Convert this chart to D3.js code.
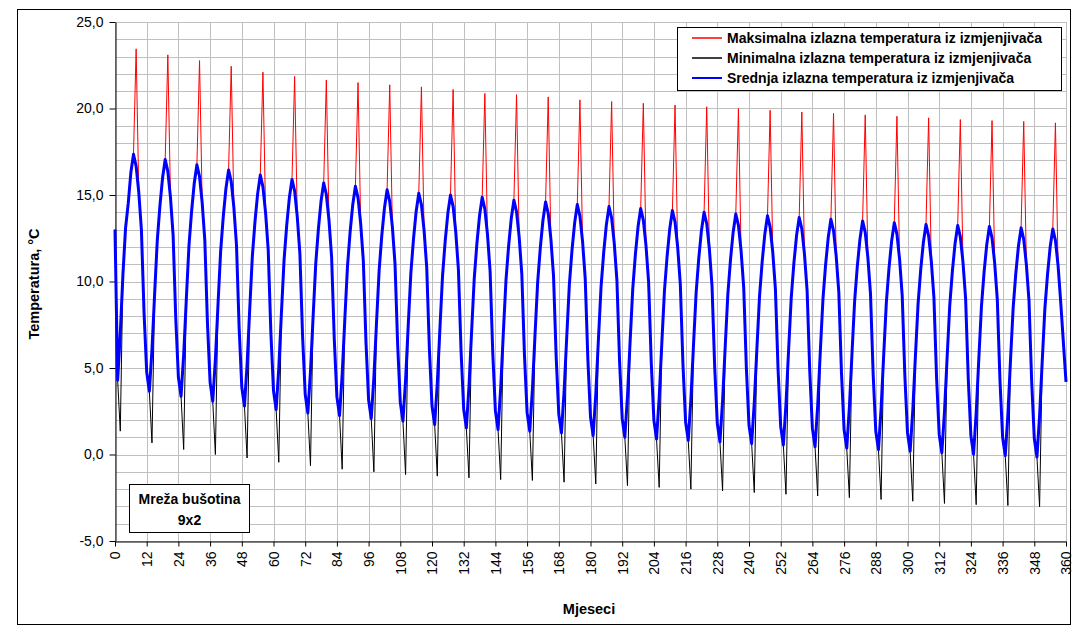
<!DOCTYPE html>
<html>
<head>
<meta charset="utf-8">
<script src="https://cdn.jsdelivr.net/npm/d3@7.9.0/dist/d3.min.js"></script>
<style>
  body { margin: 0; background: #fff; }
  svg { display: block; font-family: "Liberation Sans", Arial, sans-serif; }
</style>
</head>
<body>
<svg id="chart" width="1074" height="627"></svg>
<script>
// monthly values, month 0..360 (one row per year)
const meanTemp = [13.0,
  4.3, 7.0, 10.4, 13.1, 14.5, 16.3, 17.35, 16.66, 15.16, 12.97, 8.18, 4.76,
  3.66, 6.07, 9.28, 12.36, 14.37, 15.98, 17.05, 16.37, 14.86, 12.67, 7.88, 4.46,
  3.37, 5.78, 8.99, 12.07, 14.07, 15.68, 16.75, 16.07, 14.56, 12.38, 7.59, 4.17,
  3.08, 5.49, 8.7, 11.77, 13.78, 15.38, 16.45, 15.77, 14.27, 12.08, 7.3, 3.89,
  2.8, 5.2, 8.41, 11.48, 13.48, 15.08, 16.15, 15.47, 13.98, 11.81, 7.07, 3.68,
  2.6, 4.99, 8.19, 11.25, 13.24, 14.84, 15.9, 15.23, 13.74, 11.58, 6.86, 3.48,
  2.4, 4.79, 7.99, 11.05, 13.04, 14.64, 15.7, 15.03, 13.55, 11.4, 6.69, 3.33,
  2.25, 4.64, 7.82, 10.86, 12.85, 14.44, 15.5, 14.83, 13.35, 11.21, 6.51, 3.15,
  2.08, 4.46, 7.63, 10.67, 12.66, 14.24, 15.3, 14.63, 13.16, 11.02, 6.34, 3.0,
  1.93, 4.3, 7.46, 10.49, 12.47, 14.05, 15.1, 14.43, 12.96, 10.82, 6.14, 2.8,
  1.73, 4.12, 7.3, 10.36, 12.35, 13.94, 15.0, 14.33, 12.85, 10.69, 5.98, 2.62,
  1.54, 3.94, 7.14, 10.2, 12.2, 13.8, 14.87, 14.2, 12.72, 10.58, 5.88, 2.52,
  1.45, 3.84, 7.02, 10.06, 12.05, 13.64, 14.7, 14.03, 12.56, 10.43, 5.76, 2.42,
  1.35, 3.74, 6.92, 9.96, 11.95, 13.54, 14.6, 13.93, 12.46, 10.33, 5.66, 2.32,
  1.25, 3.63, 6.79, 9.83, 11.81, 13.39, 14.45, 13.78, 12.31, 10.18, 5.51, 2.17,
  1.1, 3.48, 6.66, 9.7, 11.68, 13.27, 14.33, 13.66, 12.2, 10.06, 5.4, 2.07,
  1.0, 3.38, 6.55, 9.59, 11.58, 13.16, 14.22, 13.55, 12.09, 9.96, 5.3, 1.97,
  0.9, 3.28, 6.44, 9.48, 11.46, 13.04, 14.1, 13.44, 11.98, 9.85, 5.2, 1.88,
  0.82, 3.19, 6.36, 9.39, 11.36, 12.95, 14.0, 13.34, 11.88, 9.75, 5.11, 1.79,
  0.73, 3.1, 6.26, 9.29, 11.27, 12.85, 13.9, 13.24, 11.78, 9.65, 5.01, 1.69,
  0.63, 3.0, 6.16, 9.19, 11.17, 12.75, 13.8, 13.14, 11.68, 9.56, 4.92, 1.61,
  0.55, 2.92, 6.07, 9.1, 11.07, 12.65, 13.7, 13.04, 11.58, 9.46, 4.82, 1.51,
  0.45, 2.82, 5.97, 9.0, 10.97, 12.55, 13.6, 12.94, 11.48, 9.37, 4.74, 1.43,
  0.37, 2.73, 5.88, 8.9, 10.87, 12.45, 13.5, 12.84, 11.38, 9.27, 4.64, 1.34,
  0.28, 2.64, 5.79, 8.81, 10.78, 12.35, 13.4, 12.74, 11.29, 9.17, 4.55, 1.25,
  0.19, 2.55, 5.7, 8.71, 10.68, 12.25, 13.3, 12.64, 11.19, 9.08, 4.46, 1.16,
  0.1, 2.47, 5.62, 8.64, 10.61, 12.19, 13.24, 12.58, 11.12, 9.01, 4.38, 1.08,
  0.02, 2.39, 5.55, 8.57, 10.55, 12.13, 13.18, 12.52, 11.06, 8.94, 4.31, 1.0,
  -0.06, 2.31, 5.47, 8.49, 10.47, 12.05, 13.1, 12.44, 10.98, 8.86, 4.23, 0.92,
  -0.14, 2.23, 5.4, 8.43, 10.4, 11.99, 13.04, 12.38, 10.92, 8.8, 6.5, 4.2
];

const maxTemp = [13.0,
  4.3, 7.0, 10.4, 13.1, 14.5, 16.3, 17.35, 23.45, 15.16, 12.97, 8.18, 4.76,
  3.66, 6.07, 9.28, 12.36, 14.37, 15.98, 17.05, 23.1, 14.86, 12.67, 7.88, 4.46,
  3.37, 5.78, 8.99, 12.07, 14.07, 15.68, 16.75, 22.77, 14.56, 12.38, 7.59, 4.17,
  3.08, 5.49, 8.7, 11.77, 13.78, 15.38, 16.45, 22.44, 14.27, 12.08, 7.3, 3.89,
  2.8, 5.2, 8.41, 11.48, 13.48, 15.08, 16.15, 22.1, 13.98, 11.81, 7.07, 3.68,
  2.6, 4.99, 8.19, 11.25, 13.24, 14.84, 15.9, 21.85, 13.74, 11.58, 6.86, 3.48,
  2.4, 4.79, 7.99, 11.05, 13.04, 14.64, 15.7, 21.65, 13.55, 11.4, 6.69, 3.33,
  2.25, 4.64, 7.82, 10.86, 12.85, 14.44, 15.5, 21.5, 13.35, 11.21, 6.51, 3.15,
  2.08, 4.46, 7.63, 10.67, 12.66, 14.24, 15.3, 21.37, 13.16, 11.02, 6.34, 3.0,
  1.93, 4.3, 7.46, 10.49, 12.47, 14.05, 15.1, 21.25, 12.96, 10.82, 6.14, 2.8,
  1.73, 4.12, 7.3, 10.36, 12.35, 13.94, 15.0, 21.1, 12.85, 10.69, 5.98, 2.62,
  1.54, 3.94, 7.14, 10.2, 12.2, 13.8, 14.87, 20.87, 12.72, 10.58, 5.88, 2.52,
  1.45, 3.84, 7.02, 10.06, 12.05, 13.64, 14.7, 20.8, 12.56, 10.43, 5.76, 2.42,
  1.35, 3.74, 6.92, 9.96, 11.95, 13.54, 14.6, 20.67, 12.46, 10.33, 5.66, 2.32,
  1.25, 3.63, 6.79, 9.83, 11.81, 13.39, 14.45, 20.5, 12.31, 10.18, 5.51, 2.17,
  1.1, 3.48, 6.66, 9.7, 11.68, 13.27, 14.33, 20.4, 12.2, 10.06, 5.4, 2.07,
  1.0, 3.38, 6.55, 9.59, 11.58, 13.16, 14.22, 20.3, 12.09, 9.96, 5.3, 1.97,
  0.9, 3.28, 6.44, 9.48, 11.46, 13.04, 14.1, 20.2, 11.98, 9.85, 5.2, 1.88,
  0.82, 3.19, 6.36, 9.39, 11.36, 12.95, 14.0, 20.1, 11.88, 9.75, 5.11, 1.79,
  0.73, 3.1, 6.26, 9.29, 11.27, 12.85, 13.9, 20.0, 11.78, 9.65, 5.01, 1.69,
  0.63, 3.0, 6.16, 9.19, 11.17, 12.75, 13.8, 19.9, 11.68, 9.56, 4.92, 1.61,
  0.55, 2.92, 6.07, 9.1, 11.07, 12.65, 13.7, 19.8, 11.58, 9.46, 4.82, 1.51,
  0.45, 2.82, 5.97, 9.0, 10.97, 12.55, 13.6, 19.72, 11.48, 9.37, 4.74, 1.43,
  0.37, 2.73, 5.88, 8.9, 10.87, 12.45, 13.5, 19.63, 11.38, 9.27, 4.64, 1.34,
  0.28, 2.64, 5.79, 8.81, 10.78, 12.35, 13.4, 19.55, 11.29, 9.17, 4.55, 1.25,
  0.19, 2.55, 5.7, 8.71, 10.68, 12.25, 13.3, 19.46, 11.19, 9.08, 4.46, 1.16,
  0.1, 2.47, 5.62, 8.64, 10.61, 12.19, 13.24, 19.36, 11.12, 9.01, 4.38, 1.08,
  0.02, 2.39, 5.55, 8.57, 10.55, 12.13, 13.18, 19.3, 11.06, 8.94, 4.31, 1.0,
  -0.06, 2.31, 5.47, 8.49, 10.47, 12.05, 13.1, 19.25, 10.98, 8.86, 4.23, 0.92,
  -0.14, 2.23, 5.4, 8.43, 10.4, 11.99, 13.04, 19.17, 10.92, 8.8, 6.5, 4.2
];

const minTemp = [13.0,
  4.3, 1.35, 10.4, 13.1, 14.5, 16.3, 17.35, 16.66, 15.16, 12.97, 8.18, 4.76,
  3.66, 0.67, 9.28, 12.36, 14.37, 15.98, 17.05, 16.37, 14.86, 12.67, 7.88, 4.46,
  3.37, 0.29, 8.99, 12.07, 14.07, 15.68, 16.75, 16.07, 14.56, 12.38, 7.59, 4.17,
  3.08, 0.0, 8.7, 11.77, 13.78, 15.38, 16.45, 15.77, 14.27, 12.08, 7.3, 3.89,
  2.8, -0.2, 8.41, 11.48, 13.48, 15.08, 16.15, 15.47, 13.98, 11.81, 7.07, 3.68,
  2.6, -0.45, 8.19, 11.25, 13.24, 14.84, 15.9, 15.23, 13.74, 11.58, 6.86, 3.48,
  2.4, -0.65, 7.99, 11.05, 13.04, 14.64, 15.7, 15.03, 13.55, 11.4, 6.69, 3.33,
  2.25, -0.85, 7.82, 10.86, 12.85, 14.44, 15.5, 14.83, 13.35, 11.21, 6.51, 3.15,
  2.08, -1.0, 7.63, 10.67, 12.66, 14.24, 15.3, 14.63, 13.16, 11.02, 6.34, 3.0,
  1.93, -1.16, 7.46, 10.49, 12.47, 14.05, 15.1, 14.43, 12.96, 10.82, 6.14, 2.8,
  1.73, -1.25, 7.3, 10.36, 12.35, 13.94, 15.0, 14.33, 12.85, 10.69, 5.98, 2.62,
  1.54, -1.35, 7.14, 10.2, 12.2, 13.8, 14.87, 14.2, 12.72, 10.58, 5.88, 2.52,
  1.45, -1.45, 7.02, 10.06, 12.05, 13.64, 14.7, 14.03, 12.56, 10.43, 5.76, 2.42,
  1.35, -1.5, 6.92, 9.96, 11.95, 13.54, 14.6, 13.93, 12.46, 10.33, 5.66, 2.32,
  1.25, -1.6, 6.79, 9.83, 11.81, 13.39, 14.45, 13.78, 12.31, 10.18, 5.51, 2.17,
  1.1, -1.7, 6.66, 9.7, 11.68, 13.27, 14.33, 13.66, 12.2, 10.06, 5.4, 2.07,
  1.0, -1.8, 6.55, 9.59, 11.58, 13.16, 14.22, 13.55, 12.09, 9.96, 5.3, 1.97,
  0.9, -1.9, 6.44, 9.48, 11.46, 13.04, 14.1, 13.44, 11.98, 9.85, 5.2, 1.88,
  0.82, -2.0, 6.36, 9.39, 11.36, 12.95, 14.0, 13.34, 11.88, 9.75, 5.11, 1.79,
  0.73, -2.1, 6.26, 9.29, 11.27, 12.85, 13.9, 13.24, 11.78, 9.65, 5.01, 1.69,
  0.63, -2.2, 6.16, 9.19, 11.17, 12.75, 13.8, 13.14, 11.68, 9.56, 4.92, 1.61,
  0.55, -2.3, 6.07, 9.1, 11.07, 12.65, 13.7, 13.04, 11.58, 9.46, 4.82, 1.51,
  0.45, -2.4, 5.97, 9.0, 10.97, 12.55, 13.6, 12.94, 11.48, 9.37, 4.74, 1.43,
  0.37, -2.5, 5.88, 8.9, 10.87, 12.45, 13.5, 12.84, 11.38, 9.27, 4.64, 1.34,
  0.28, -2.6, 5.79, 8.81, 10.78, 12.35, 13.4, 12.74, 11.29, 9.17, 4.55, 1.25,
  0.19, -2.7, 5.7, 8.71, 10.68, 12.25, 13.3, 12.64, 11.19, 9.08, 4.46, 1.16,
  0.1, -2.83, 5.62, 8.64, 10.61, 12.19, 13.24, 12.58, 11.12, 9.01, 4.38, 1.08,
  0.02, -2.9, 5.55, 8.57, 10.55, 12.13, 13.18, 12.52, 11.06, 8.94, 4.31, 1.0,
  -0.06, -2.95, 5.47, 8.49, 10.47, 12.05, 13.1, 12.44, 10.98, 8.86, 4.23, 0.92,
  -0.14, -3.02, 5.4, 8.43, 10.4, 11.99, 13.04, 12.38, 10.92, 8.8, 6.5, 4.2
];

const xTicks = [0, 12, 24, 36, 48, 60, 72, 84, 96, 108, 120, 132, 144, 156, 168, 180,
  192, 204, 216, 228, 240, 252, 264, 276, 288, 300, 312, 324, 336, 348, 360];
const yTicks = [-5, 0, 5, 10, 15, 20, 25];

const seriesNames = [
  'Maksimalna izlazna temperatura iz izmjenjivača',
  'Minimalna izlazna temperatura iz izmjenjivača',
  'Srednja izlazna temperatura iz izmjenjivača'
];
const seriesColors = ['#ff0000', '#000000', '#0000ff'];

const svg = d3.select('#chart');

const x = d3.scaleLinear().domain([0, 360]).range([115, 1066]);
const y = d3.scaleLinear().domain([-5, 25]).range([541, 22]);

const locale = d3.formatLocale({ decimal: ',', thousands: '.', grouping: [3], currency: ['', ''], minus: '-' });
const fmt = locale.format('.1f');

// chart border
svg.append('rect')
  .attr('x', 17.5).attr('y', 9.5)
  .attr('width', 1053).attr('height', 615)
  .attr('fill', 'none').attr('stroke', '#000');

// grid
const grid = svg.append('g').attr('stroke', '#c0c0c0').attr('stroke-width', 1);
grid.selectAll('.h')
  .data(y.ticks(30))
  .join('line')
  .attr('x1', x(0)).attr('x2', x(360))
  .attr('y1', d => Math.round(y(d)) + 0.5)
  .attr('y2', d => Math.round(y(d)) + 0.5);
grid.selectAll('.v')
  .data(xTicks)
  .join('line')
  .attr('y1', y(25)).attr('y2', y(-5))
  .attr('x1', d => Math.round(x(d)) + 0.5)
  .attr('x2', d => Math.round(x(d)) + 0.5);

// axes
const yAxis = svg.append('g')
  .attr('transform', `translate(${Math.round(x(0)) + 0.5},0)`)
  .call(d3.axisLeft(y).tickValues(yTicks).tickFormat(fmt).tickSize(6).tickSizeOuter(0).tickPadding(6));
yAxis.selectAll('text').attr('font-size', 14).attr('font-family', null).attr('fill', '#000');

const xAxis = svg.append('g')
  .attr('transform', `translate(0,${Math.round(y(-5)) + 0.5})`)
  .call(d3.axisBottom(x).tickValues(xTicks).tickSize(5).tickSizeOuter(0));
xAxis.selectAll('text')
  .attr('font-size', 14).attr('font-family', null).attr('fill', '#000')
  .attr('transform', 'rotate(-90)')
  .attr('text-anchor', 'end')
  .attr('x', -10).attr('y', 0).attr('dy', '0.35em');

svg.selectAll('.domain, .tick line').attr('stroke', '#000');

// series
const line = d3.line()
  .x((d, i) => x(i))
  .y(d => y(d));

[maxTemp, minTemp, meanTemp].forEach((data, idx) => {
  svg.append('path')
    .datum(data)
    .attr('d', line)
    .attr('fill', 'none')
    .attr('stroke', seriesColors[idx])
    .attr('stroke-width', idx === 2 ? 3 : 1)
    .attr('stroke-linejoin', 'round');
});

// axis titles
svg.append('text')
  .attr('x', 589).attr('y', 614)
  .attr('text-anchor', 'middle')
  .attr('font-size', 14.5).attr('font-weight', 'bold')
  .text('Mjeseci');

svg.append('text')
  .attr('transform', 'translate(39,284) rotate(-90)')
  .attr('text-anchor', 'middle')
  .attr('font-size', 14.5).attr('font-weight', 'bold')
  .text('Temperatura, °C');

// legend
const legend = svg.append('g');
legend.append('rect')
  .attr('x', 677.5).attr('y', 27.5)
  .attr('width', 384).attr('height', 63)
  .attr('fill', '#fff').attr('stroke', '#000');

seriesNames.forEach((name, idx) => {
  const ly = 38 + idx * 20;
  legend.append('line')
    .attr('x1', 692).attr('x2', 722)
    .attr('y1', ly).attr('y2', ly)
    .attr('stroke', seriesColors[idx])
    .attr('stroke-width', idx === 2 ? 2 : 1.5);
  legend.append('text')
    .attr('x', 727).attr('y', ly).attr('dy', '0.35em')
    .attr('font-size', 14).attr('font-weight', 'bold')
    .text(name);
});

// annotation box
const note = svg.append('g');
note.append('rect')
  .attr('x', 129.5).attr('y', 484.5)
  .attr('width', 120).attr('height', 48)
  .attr('fill', '#fff').attr('stroke', '#000');
note.selectAll('text')
  .data(['Mreža bušotina', '9x2'])
  .join('text')
  .attr('x', 189.5)
  .attr('y', (d, i) => 499 + i * 21)
  .attr('dy', '0.35em')
  .attr('text-anchor', 'middle')
  .attr('font-size', 14).attr('font-weight', 'bold')
  .text(d => d);
</script>
</body>
</html>
